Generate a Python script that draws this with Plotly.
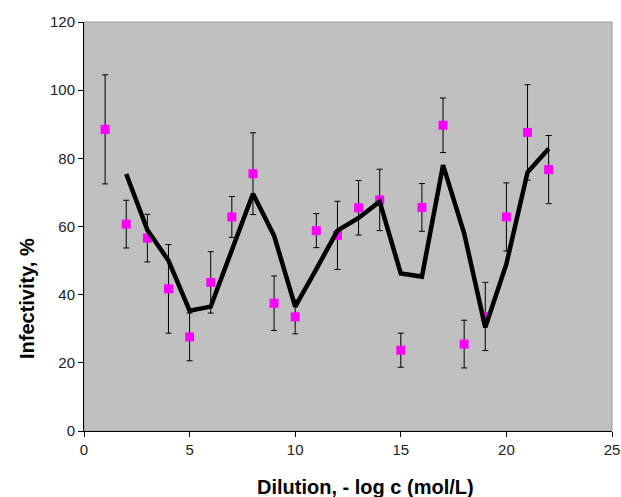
import plotly.graph_objects as go

# Measured points (x = dilution, y = infectivity %, with +/- error)
point_x = list(range(1, 23))
point_y = [88.5, 60.7, 56.6, 41.7, 27.6, 43.6, 62.8, 75.5, 37.5, 33.5, 58.8,
           57.4, 65.5, 67.8, 23.7, 65.6, 89.7, 25.5, 33.6, 62.8, 87.6, 76.7]
point_err = [16, 7, 7, 13, 7, 9, 6, 12, 8, 5, 5, 10, 8, 9, 5, 7, 8, 7, 10, 10, 14, 10]

# Moving-average style curve
line_x = list(range(2, 23))
line_y = [75.4, 59.0, 50.0, 35.3, 36.5, 53.0, 69.6, 57.3, 36.5, 47.5, 58.8,
          62.5, 67.3, 46.2, 45.3, 78.0, 58.0, 30.4, 49.0, 75.9, 82.8]

x_ticks = [0, 5, 10, 15, 20, 25]
y_ticks = [0, 20, 40, 60, 80, 100, 120]

fig = go.Figure()
fig.add_trace(go.Scatter(
    x=point_x, y=point_y, mode="markers",
    marker=dict(symbol="square", size=9, color="#FF00FF"),
    error_y=dict(type="data", array=point_err, visible=True,
                 color="#000000", thickness=1, width=3),
    showlegend=False,
))
fig.add_trace(go.Scatter(
    x=line_x, y=line_y, mode="lines",
    line=dict(color="#000000", width=4.5),
    showlegend=False,
))

fig.update_layout(
    width=621, height=497,
    margin=dict(l=84, r=9, t=22, b=66, autoexpand=False),
    paper_bgcolor="white",
    plot_bgcolor="#C0C0C0",
    font=dict(family="Liberation Sans, Arial, sans-serif", color="#222222", size=15),
    xaxis=dict(
        range=[0, 25], tickvals=x_ticks, showgrid=False, zeroline=False,
        showline=True, linecolor="#000000", linewidth=1, automargin=False,
        ticks="outside", ticklen=5, tickcolor="#000000",
        ticklabeloverflow="allow",
    ),
    yaxis=dict(
        range=[0, 120], tickvals=y_ticks, showgrid=False, zeroline=False,
        showline=True, linecolor="#000000", linewidth=1, automargin=False,
        ticks="outside", ticklen=5, tickcolor="#000000",
        ticklabeloverflow="allow",
    ),
    shapes=[dict(type="rect", xref="paper", yref="paper", x0=0, x1=1, y0=0, y1=1,
                 line=dict(color="#9A9A9A", width=1), layer="below")],
    annotations=[
        dict(text="<b>Dilution, - log c (mol/L)</b>", xref="paper", yref="paper",
             x=0.534, y=-0.137, xanchor="center", yanchor="middle", showarrow=False,
             font=dict(size=20, color="#000000")),
        dict(text="<b>Infectivity, %</b>", xref="paper", yref="paper",
             x=-0.108, y=0.325, xanchor="center", yanchor="middle", showarrow=False,
             textangle=-90, font=dict(size=20, color="#000000")),
    ],
)

fig.write_html(
    "out.html",
    config={"displayModeBar": False},
    post_script="document.body.style.margin='0';document.body.style.overflow='hidden';",
)
